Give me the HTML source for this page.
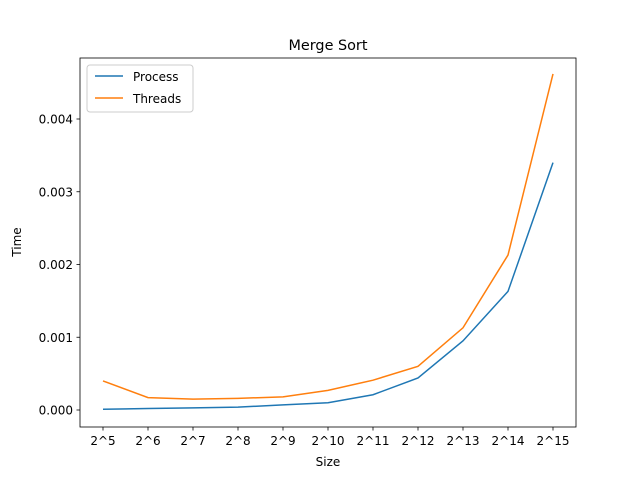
<!DOCTYPE html>
<html><head><meta charset="utf-8"><style>
body{margin:0;background:#fff}
svg text{font-family:"DejaVu Sans","Liberation Sans",sans-serif;fill:#000}
</style></head><body>
<svg id="chart" width="640" height="480" viewBox="0 0 640 480" xmlns="http://www.w3.org/2000/svg">
<rect width="640" height="480" fill="#fff"/>
<text x="328" y="50" font-size="14.4" text-anchor="middle">Merge Sort</text>
<g id="plot"></g>
<rect x="80" y="58" width="496" height="369" fill="none" stroke="#000" stroke-width="0.8"/>
<text x="328" y="466" font-size="12" text-anchor="middle">Size</text>
<text transform="translate(21,242) rotate(-90)" font-size="12" text-anchor="middle">Time</text>
<g>
<rect x="87" y="65" width="106" height="47" fill="#fff" fill-opacity="0.8" stroke="#ccc" rx="3"/>
<line x1="95" y1="76" x2="123" y2="76" stroke="#1f77b4" stroke-width="1.5"/>
<text x="133" y="81" font-size="12">Process</text>
<line x1="95" y1="98" x2="123" y2="98" stroke="#ff7f0e" stroke-width="1.5"/>
<text x="133" y="103" font-size="12">Threads</text>
</g>
</svg>
<script>
const categories=["2^5","2^6","2^7","2^8","2^9","2^10","2^11","2^12","2^13","2^14","2^15"];
const processTimes=[0.00001,0.00002,0.00003,0.00004,0.00007,0.0001,0.00021,0.00044,0.00095,0.00163,0.0034];
const threadTimes=[0.0004,0.00017,0.00015,0.00016,0.00018,0.00027,0.00041,0.0006,0.00113,0.00213,0.00462];
const yTicks=[0,0.001,0.002,0.003,0.004];
const yTickLabels=["0.000","0.001","0.002","0.003","0.004"];
const NS="http://www.w3.org/2000/svg";
const g=document.getElementById('plot');
const x=i=>103+i*(553-103)/(categories.length-1);
const y=v=>410-v*72750;
function mk(t,a){const e=document.createElementNS(NS,t);for(const k in a)e.setAttribute(k,a[k]);g.appendChild(e);return e;}
categories.forEach((c,i)=>{
 const l=mk('line',{x1:x(i),x2:x(i),y1:427,y2:430.5,stroke:'#000','stroke-width':0.8});
 
 
 const t=mk('text',{x:x(i),y:445,'font-size':12,'text-anchor':'middle'});t.textContent=c;
 
 
});
yTicks.forEach((v,i)=>{
 const l=mk('line',{x1:76.5,x2:80,y1:y(v),y2:y(v),stroke:'#000','stroke-width':0.8});
 
 
 const t=mk('text',{x:73,y:y(v)+4.5,'font-size':12,'text-anchor':'end'});t.textContent=yTickLabels[i];
 
 
});
function series(arr,color,name){
 const p=mk('polyline',{points:arr.map((v,i)=>x(i)+','+y(v)).join(' '),fill:'none',stroke:color,'stroke-width':1.5});
 
 
}
series(processTimes,'#1f77b4','process-line');
series(threadTimes,'#ff7f0e','threads-line');
</script>
</body></html>
